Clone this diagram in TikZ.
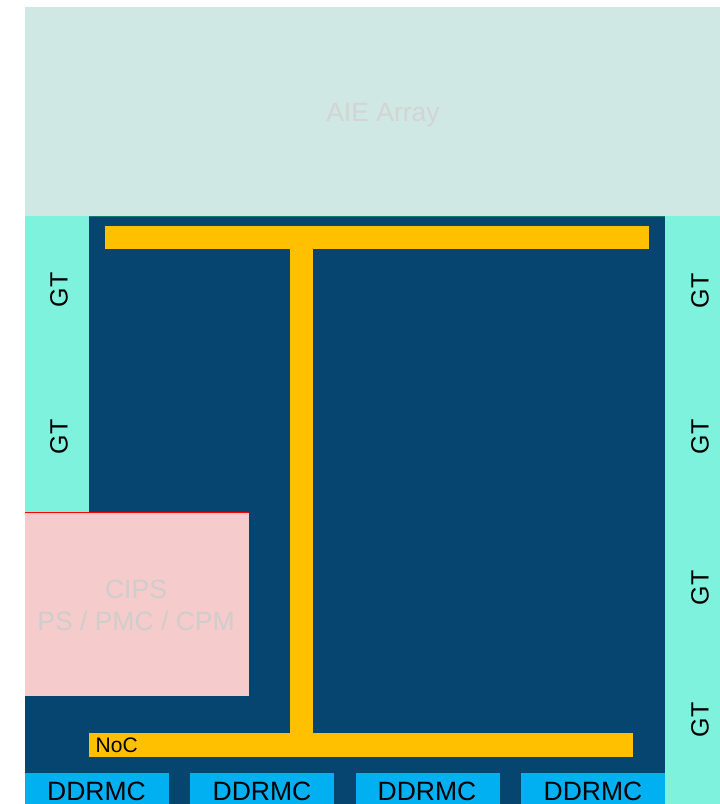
\documentclass[tikz,border=0pt]{standalone}
\usepackage{fontspec}
\setmainfont{Liberation Sans}
\definecolor{aiecol}{HTML}{CFE8E3}
\definecolor{fabric}{HTML}{06456F}
\definecolor{gtcol}{HTML}{7FF2DE}
\definecolor{noccol}{HTML}{FFC000}
\definecolor{cipscol}{HTML}{F6CBCB}
\definecolor{ddrcol}{HTML}{00B0F0}
\definecolor{ghost}{HTML}{D4D4D4}
\definecolor{ghostb}{HTML}{D0CDCD}
\definecolor{edgecol}{HTML}{0B7F6E}
\tikzset{
  blk/.style={inner sep=0pt, outer sep=0pt, anchor=north west, draw=none},
  bigtxt/.style={inner sep=0pt, font=\fontsize{26.5}{32}\selectfont},
  gttxt/.style={inner sep=0pt, rotate=90, font=\fontsize{25}{30}\selectfont, text=black},
  ddrtxt/.style={inner sep=0pt, anchor=base, font=\fontsize{26.5}{30}\selectfont, text=black},
}
\begin{document}
\begin{tikzpicture}[x=1pt,y=-1pt]
\useasboundingbox (0,0) rectangle (720,804);
\fill[white] (0,0) rectangle (720,804);
% AIE array
\node[blk, fill=aiecol, minimum width=695pt, minimum height=209pt] (aie) at (25,7) {};
\node[bigtxt, text=ghost] (aielbl) at (383,115) {AIE Array};
% fabric
\node[blk, fill=fabric, minimum width=640pt, minimum height=588pt] (fabric) at (25,216) {};
\draw[edgecol, line width=1.5pt] (89,216.5) -- (665,216.5);
% left GT column
\node[blk, fill=gtcol, minimum width=64pt, minimum height=296pt] (gtl) at (25,216) {};
\node[gttxt] (gtl1) at (59,290) {GT};
\node[gttxt] (gtl2) at (59,437) {GT};
% right GT column
\node[blk, fill=gtcol, minimum width=55pt, minimum height=588pt] (gtr) at (665,216) {};
\node[gttxt] (gtr1) at (700,291) {GT};
\node[gttxt] (gtr2) at (700,437) {GT};
\node[gttxt] (gtr3) at (700,588) {GT};
\node[gttxt] (gtr4) at (700,720) {GT};
% CIPS
\node[blk, fill=cipscol, minimum width=224pt, minimum height=184pt] (cips) at (25,512) {};
\draw[red, line width=1pt] (25,512) -- (249,512);
\node[bigtxt, text=ghostb, align=center] (cipslbl) at (136,605) {CIPS\\PS / PMC / CPM};
% NoC
\node[blk, fill=noccol, minimum width=544pt, minimum height=23pt] (noctop) at (105,226) {};
\node[blk, fill=noccol, minimum width=23pt, minimum height=485pt] (nocvert) at (290,249) {};
\node[blk, fill=noccol, minimum width=544pt, minimum height=24pt] (nocbot) at (89,733) {};
\node[inner sep=0pt, anchor=base west, font=\fontsize{21}{24}\selectfont, text=black] (noclbl) at (95.5,752) {NoC};
% DDRMC
\node[blk, fill=ddrcol, minimum width=144pt, minimum height=31pt] (ddr1) at (25,773) {};
\node[blk, fill=ddrcol, minimum width=144pt, minimum height=31pt] (ddr2) at (190,773) {};
\node[blk, fill=ddrcol, minimum width=144pt, minimum height=31pt] (ddr3) at (356,773) {};
\node[blk, fill=ddrcol, minimum width=144pt, minimum height=31pt] (ddr4) at (521,773) {};
\node[ddrtxt] (ddr1l) at (96.5,800) {DDRMC};
\node[ddrtxt] (ddr2l) at (262,800) {DDRMC};
\node[ddrtxt] (ddr3l) at (427,800) {DDRMC};
\node[ddrtxt] (ddr4l) at (593,800) {DDRMC};
\end{tikzpicture}
\end{document}
